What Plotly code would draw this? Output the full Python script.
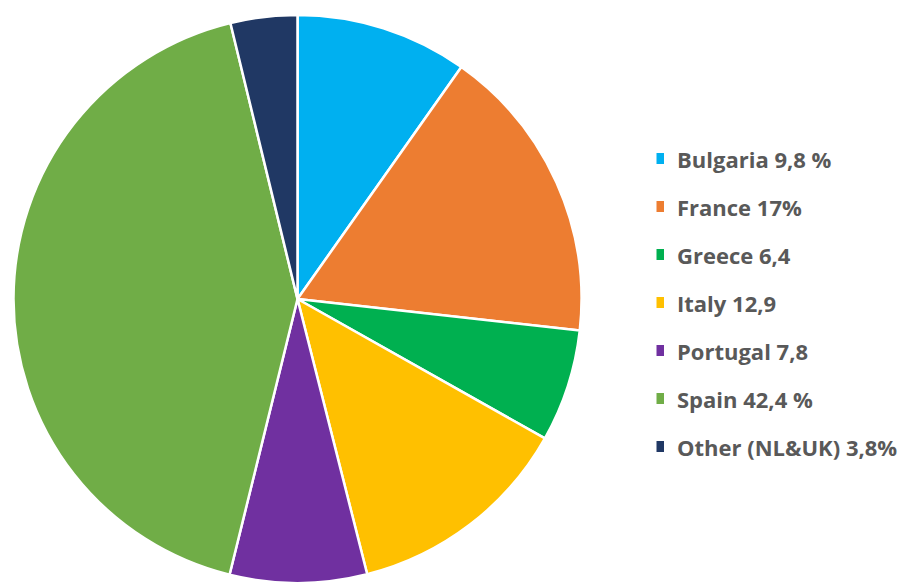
import plotly.graph_objects as go

labels = ["Bulgaria", "France", "Greece", "Italy", "Portugal", "Spain", "Other (NL&UK)"]
values = [9.8, 17, 6.4, 12.9, 7.8, 42.4, 3.8]
legend_texts = ["Bulgaria 9,8 %", "France 17%", "Greece 6,4", "Italy 12,9",
                "Portugal 7,8", "Spain 42,4 %", "Other (NL&UK) 3,8%"]
colors = ["#00B0F0", "#ED7D31", "#00B050", "#FFC000", "#7030A0", "#70AD47", "#203864"]

W, H = 916, 583
TOP = 15
PH = H - TOP


def py(ypix):
    return 1 - (ypix - TOP) / PH


fig = go.Figure()
fig.add_trace(go.Pie(
    labels=labels, values=values, sort=False, direction="clockwise", rotation=0,
    marker=dict(colors=colors, line=dict(color="white", width=2.5)),
    textinfo="none", hoverinfo="label+value", showlegend=False,
    domain=dict(x=[12 / W, 583 / W], y=[0, 1]),
))

# custom legend (plotly legend cannot set the row spacing)
y0 = 158.5
dy = 48
for i, (t, c) in enumerate(zip(legend_texts, colors)):
    yc = y0 + i * dy
    fig.add_shape(type="rect", xref="paper", yref="paper",
                  x0=656.5 / W, x1=664 / W, y0=py(yc + 5.5), y1=py(yc - 5.5),
                  fillcolor=c, line=dict(width=0))
    fig.add_annotation(x=675 / W, y=py(yc + 0.5), xref="paper", yref="paper",
                       text="<b>" + t + "</b>", showarrow=False, xanchor="left", yanchor="middle",
                       font=dict(family="Open Sans", size=22, color="#595959"))

fig.update_layout(
    width=W, height=H, margin=dict(l=0, r=0, t=TOP, b=0),
    paper_bgcolor="white", plot_bgcolor="white",
)
fig.write_html("out.html")
